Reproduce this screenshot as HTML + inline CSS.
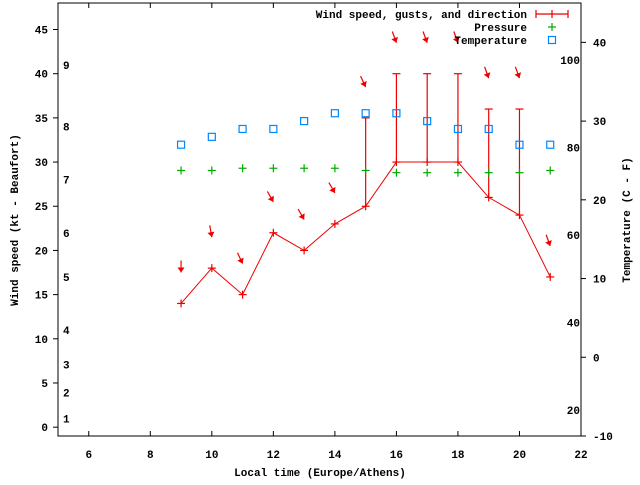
<!DOCTYPE html>
<html><head><meta charset="utf-8"><style>
html,body{margin:0;padding:0;background:#fff;}
svg text{font-family:"Liberation Mono","DejaVu Sans Mono",monospace;font-size:11px;font-weight:bold;fill:#000;}
</style></head><body>
<svg id="chart" width="640" height="480" xmlns="http://www.w3.org/2000/svg"></svg>
<script>
const hours=[9,10,11,12,13,14,15,16,17,18,19,20,21];
const windKt=[14,18,15,22,20,23,25,30,30,30,26,24,17];
const gustKt=[null,null,null,null,null,null,35,40,40,40,36,36,null];
const windDirDeg=[0,350,335,330,330,330,335,340,340,340,340,340,340];
const pressure=[29.05,29.05,29.3,29.3,29.3,29.3,29.05,28.8,28.8,28.8,28.8,28.8,29.05];
const tempC=[27,28,29,29,30,31,31,31,30,29,29,27,27];
const xTicks=[6,8,10,12,14,16,18,20,22];
const yTicks=[0,5,10,15,20,25,30,35,40,45];
const y2Ticks=[-10,0,10,20,30,40];
const fLabels=[20,40,60,80,100];
const bftLabels=[1,2,3,4,5,6,7,8,9];
const bftKt=[1.0,3.9,7.1,11.0,17.0,22.0,28.0,34.0,41.0];

const svg=document.getElementById('chart');
const NS='http://www.w3.org/2000/svg';
const L=58,R=581,T=3,B=436;
const sx=v=>L+(v-5)/(22-5)*(R-L);
const sy=v=>B-(v+1)/(48+1)*(B-T);
const sy2=v=>B-(v+10)/55*(B-T);
const f2c=f=>(f-32)*5/9;
function mk(tag,attrs,parent){const e=document.createElementNS(NS,tag);for(const k in attrs)e.setAttribute(k,attrs[k]);(parent||svg).appendChild(e);return e;}
function txt(x,y,s,anchor,parent){const t=mk('text',{x:x,y:y,'text-anchor':anchor||'start'},parent);t.textContent=s;return t;}

const frame=mk('rect',{x:L,y:T,width:R-L,height:B-T,fill:'none',stroke:'#000','stroke-width':1});



const xAxis=mk('g',{});


xTicks.forEach(v=>{const x=sx(v);
 mk('line',{x1:x,y1:B,x2:x,y2:B-5,stroke:'#000'},xAxis);
 mk('line',{x1:x,y1:T,x2:x,y2:T+5,stroke:'#000'},xAxis);
 const t=txt(x,458,String(v),'middle',xAxis);
 
 });
const yAxis=mk('g',{});


yTicks.forEach(v=>{const y=sy(v);
 mk('line',{x1:L-5,y1:y,x2:L,y2:y,stroke:'#000'},yAxis);
 const t=txt(L-10,y+4,String(v),'end',yAxis);
 
 });
const y2Axis=mk('g',{});


y2Ticks.forEach(v=>{const y=sy2(v);
 mk('line',{x1:R,y1:y,x2:R+5,y2:y,stroke:'#000'},y2Axis);
 const t=txt(R+12,y+4,String(v),'start',y2Axis);
 
 });
fLabels.forEach(v=>{const t=txt(580,sy2(f2c(v))+4,String(v),'end');
 
 });
bftLabels.forEach((v,i)=>{const t=txt(63,sy(bftKt[i])+4,String(v),'start');
 
 });

let t=txt(320,476,'Local time (Europe/Athens)','middle');


t=txt(0,0,'Wind speed (kt - Beaufort)','middle');t.setAttribute('transform','translate(18,220) rotate(-90)');


t=txt(0,0,'Temperature (C - F)','middle');t.setAttribute('transform','translate(630,220) rotate(-90)');



const pts=hours.map((h,i)=>sx(h)+','+sy(windKt[i])).join(' ');
const wl=mk('polyline',{points:pts,fill:'none',stroke:'#e00','stroke-width':1});


hours.forEach((h,i)=>{const x=sx(h),y=sy(windKt[i]);
 const g=mk('g',{stroke:'#e00','stroke-width':1.2});
 
 
 mk('line',{x1:x-4,y1:y,x2:x+4,y2:y},g);mk('line',{x1:x,y1:y-4,x2:x,y2:y+4},g);
 if(gustKt[i]!=null){const yg=sy(gustKt[i]);
  const eb=mk('g',{stroke:'#e00','stroke-width':1.2});
  
  
  mk('line',{x1:x,y1:y,x2:x,y2:yg},eb);mk('line',{x1:x-4,y1:yg,x2:x+4,y2:yg},eb);}
 const top=Math.max(windKt[i],gustKt[i]||0)+3.5;
 const hx=x,hy=sy(top);const a=windDirDeg[i]*Math.PI/180,len=12;
 const tx=hx+Math.sin(a)*len,ty=hy-Math.cos(a)*len;
 const ag=mk('g',{});
 
 
 mk('line',{x1:tx,y1:ty,x2:hx,y2:hy,stroke:'#e00','stroke-width':1.2},ag);
 const ux=(hx-tx)/len,uy=(hy-ty)/len;
 mk('polygon',{points:`${hx},${hy} ${hx-ux*5-uy*3.5},${hy-uy*5+ux*3.5} ${hx-ux*5+uy*3.5},${hy-uy*5-ux*3.5}`,fill:'#e00'},ag);
});
hours.forEach((h,i)=>{const x=sx(h),y=sy(pressure[i]);
 const g=mk('g',{stroke:'#0a0','stroke-width':1.2});
 
 
 mk('line',{x1:x-4,y1:y,x2:x+4,y2:y},g);mk('line',{x1:x,y1:y-4,x2:x,y2:y+4},g);});
hours.forEach((h,i)=>{const x=sx(h),y=sy2(tempC[i]);
 const r=mk('rect',{x:x-3.5,y:y-3.5,width:7,height:7,fill:'none',stroke:'#08f','stroke-width':1.2});
 
 });

const lg=mk('g',{});


t=txt(527,18,'Wind speed, gusts, and direction','end',lg);


mk('line',{x1:536,y1:14,x2:568,y2:14,stroke:'#e00','stroke-width':1.2},lg);
mk('line',{x1:536,y1:10,x2:536,y2:18,stroke:'#e00','stroke-width':1.2},lg);
mk('line',{x1:568,y1:10,x2:568,y2:18,stroke:'#e00','stroke-width':1.2},lg);
mk('line',{x1:552,y1:10,x2:552,y2:18,stroke:'#e00','stroke-width':1.2},lg);
t=txt(527,31,'Pressure','end',lg);


mk('line',{x1:548,y1:27,x2:556,y2:27,stroke:'#0a0','stroke-width':1.2},lg);
mk('line',{x1:552,y1:23,x2:552,y2:31,stroke:'#0a0','stroke-width':1.2},lg);
t=txt(527,44,'Temperature','end',lg);


mk('rect',{x:548.5,y:36.5,width:7,height:7,fill:'none',stroke:'#08f','stroke-width':1.2},lg);
</script>
</body></html>
